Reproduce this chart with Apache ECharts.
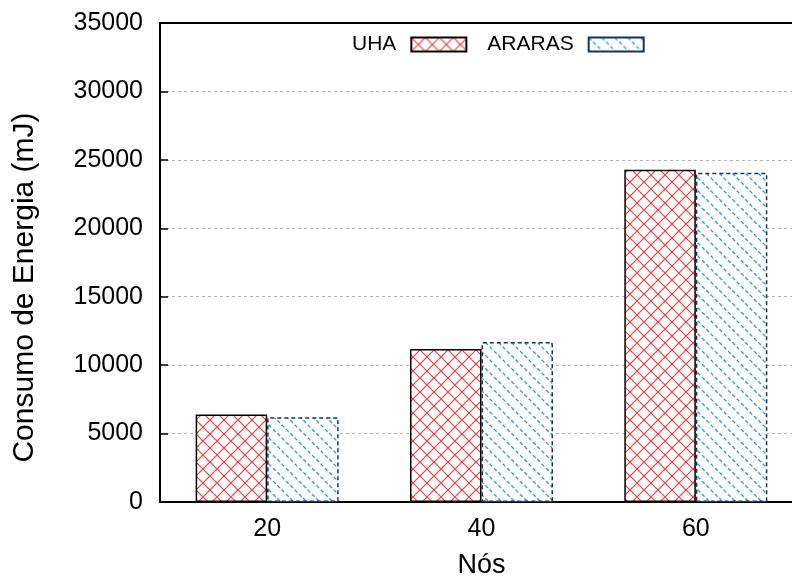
<!DOCTYPE html>
<html>
<head>
<meta charset="utf-8">
<script src="https://cdn.jsdelivr.net/npm/echarts@6/dist/echarts.min.js"></script>
<style>
  html, body { margin: 0; padding: 0; background: #fff; }
  #chart { width: 792px; height: 579px; }
</style>
</head>
<body>
<div id="chart"></div>
<script>
// Energy consumption per network size
const nodeCounts = ['20', '40', '60'];
const uhaEnergy = [6400, 11180, 24280];
const ararasEnergy = [6200, 11690, 24060];
const yTicks = { min: 0, max: 35000, interval: 5000 };

const FONT = '"Liberation Sans", Arial, Helvetica, sans-serif';

// Red cross-hatch tile
function crossHatch(size, color) {
  const c = document.createElement('canvas');
  c.width = size; c.height = size;
  const g = c.getContext('2d');
  g.fillStyle = '#fff';
  g.fillRect(0, 0, size, size);
  g.strokeStyle = color;
  g.lineWidth = 1.2;
  for (let k = -1; k <= 1; k++) {
    g.beginPath();
    g.moveTo(k * size, 0); g.lineTo(k * size + size, size);
    g.moveTo(k * size + size, 0); g.lineTo(k * size, size);
    g.stroke();
  }
  return c;
}

// Blue dashed back-slash hatch tile
function dashHatch(size, color) {
  const c = document.createElement('canvas');
  c.width = size; c.height = size;
  const g = c.getContext('2d');
  g.fillStyle = '#fff';
  g.fillRect(0, 0, size, size);
  g.strokeStyle = color;
  g.lineWidth = 1.3;
  const len = Math.sqrt(2) * size;
  const period = len / 3;
  g.setLineDash([period * 0.62, period * 0.38]);
  for (let k = -1; k <= 1; k++) {
    g.beginPath();
    g.moveTo(k * size, 0); g.lineTo(k * size + size, size);
    g.stroke();
  }
  return c;
}

const chart = echarts.init(document.getElementById('chart'), null, { renderer: 'canvas' });

chart.setOption({
  backgroundColor: '#fff',
  animation: false,
  textStyle: { fontFamily: FONT },
  legend: {
    top: 29,
    left: 347,
    align: 'right',
    icon: 'rect',
    itemWidth: 55,
    itemHeight: 14,
    itemGap: 20,
    textStyle: { fontFamily: FONT, fontSize: 21, color: '#000', padding: [0, 10, 0, 0] },
    data: ['UHA', 'ARARAS']
  },
  grid: {
    left: 160, top: 23, width: 643, height: 479,
    containLabel: false,
    outerBoundsMode: 'none'
  },
  xAxis: [
    {
      type: 'category',
      data: nodeCounts,
      position: 'bottom',
      name: 'Nós',
      nameLocation: 'middle',
      nameGap: 50,
      nameTextStyle: { fontFamily: FONT, fontSize: 27, color: '#000' },
      axisLine: { lineStyle: { color: '#000', width: 2 } },
      axisTick: { alignWithLabel: true, inside: true, length: 8, lineStyle: { color: '#000', width: 1.5 } },
      axisLabel: { fontFamily: FONT, fontSize: 25, color: '#000', margin: 15 },
      splitLine: { show: false }
    },
    {
      type: 'category',
      data: nodeCounts,
      position: 'top',
      axisLine: { lineStyle: { color: '#000', width: 2 } },
      axisTick: { alignWithLabel: true, inside: true, length: 6, lineStyle: { color: '#000', width: 1.5 } },
      axisLabel: { show: false },
      splitLine: { show: false }
    }
  ],
  yAxis: {
    type: 'value',
    min: yTicks.min,
    max: yTicks.max,
    interval: yTicks.interval,
    name: 'Consumo de Energia (mJ)',
    nameLocation: 'middle',
    nameGap: 120,
    nameTextStyle: { fontFamily: FONT, fontSize: 30, color: '#000', padding: [0, 50, 0, 0] },
    axisLine: { show: true, lineStyle: { color: '#000', width: 2 } },
    axisTick: { show: true, inside: true, length: 8, lineStyle: { color: '#000', width: 1.5 } },
    axisLabel: { fontFamily: FONT, fontSize: 25, color: '#000', margin: 17, formatter: (v) => String(v) },
    splitLine: { show: true, lineStyle: { color: '#b4b4b4', width: 1, type: [3, 3] } }
  },
  series: [
    {
      name: 'UHA',
      type: 'bar',
      data: uhaEnergy,
      barWidth: 71.5,
      barGap: '0%',
      itemStyle: {
        color: { image: crossHatch(14, 'rgba(238,40,40,0.9)'), repeat: 'repeat' },
        borderColor: '#000',
        borderWidth: 1.5
      }
    },
    {
      name: 'ARARAS',
      type: 'bar',
      data: ararasEnergy,
      barWidth: 71.5,
      barGap: '0%',
      itemStyle: {
        color: { image: dashHatch(13, 'rgb(40,150,255)'), repeat: 'repeat' },
        borderColor: '#13335c',
        borderWidth: 1.5,
        borderType: [4, 3]
      }
    }
  ]
});
</script>
</body>
</html>
